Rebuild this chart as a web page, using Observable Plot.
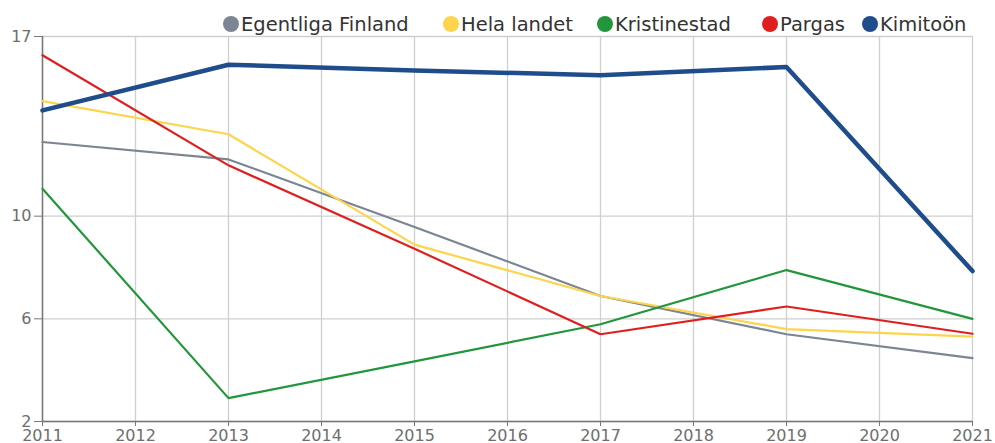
<!DOCTYPE html>
<html>
<head>
<meta charset="utf-8">
<script src="https://cdn.jsdelivr.net/npm/d3@7"></script>
<script src="https://cdn.jsdelivr.net/npm/@observablehq/plot@0.6"></script>
<style>
  html, body { margin: 0; padding: 0; background: #fff; }
  #wrap { position: relative; width: 995px; height: 443px; font-family: "DejaVu Sans", sans-serif; }
  #legend { position: absolute; top: 12px; left: 0; width: 995px; height: 24px; }
  .item { position: absolute; top: 0; height: 24px; display: flex; align-items: center; font-size: 19.5px; color: #333; white-space: nowrap; }
  .dot { width: 16px; height: 16px; border-radius: 50%; margin-right: 2px; }
</style>
</head>
<body>
<div id="wrap"><div id="legend"></div></div>
<script>
const years = [2011, 2013, 2015, 2017, 2019, 2021];
const allYears = [2011, 2012, 2013, 2014, 2015, 2016, 2017, 2018, 2019, 2020, 2021];
const yTicks = [2, 6, 10, 17];

const seriesNames = ["Egentliga Finland", "Hela landet", "Kristinestad", "Pargas", "Kimitoön"];
const seriesColors = ["#7b8593", "#fcd54c", "#21963a", "#df1f1f", "#1f4d8b"];

const egentligaFinland = [12.89, 12.21, 9.58, 6.89, 5.40, 4.47];
const helaLandet       = [14.48, 13.19, 8.89, 6.89, 5.60, 5.31];
const kristinestad     = [11.07, 2.91, 4.34, 5.79, 7.90, 6.00];
const pargas           = [16.27, 11.98, 8.73, 5.40, 6.48, 5.42];
const kimitoon         = [14.12, 15.90, 15.68, 15.49, 15.81, 7.86];

const seriesValues = [egentligaFinland, helaLandet, kristinestad, pargas, kimitoon];

const data = seriesNames.flatMap((s, i) =>
  years.map((yr, j) => ({ series: s, year: yr, value: seriesValues[i][j] }))
);

// legend (layout only)
const legendLeft = [223, 443, 597, 762, 862];
const legend = document.getElementById("legend");
seriesNames.forEach((s, i) => {
  const it = document.createElement("div");
  it.className = "item";
  it.style.left = legendLeft[i] + "px";
  const d = document.createElement("span");
  d.className = "dot";
  d.style.background = seriesColors[i];
  const t = document.createElement("span");
  t.textContent = s;
  it.appendChild(d); it.appendChild(t);
  legend.appendChild(it);
});

const chart = Plot.plot({
  width: 995,
  height: 443,
  marginTop: 36,
  marginBottom: 22,
  marginLeft: 42,
  marginRight: 23,
  style: { fontFamily: "DejaVu Sans, sans-serif", fontSize: "16px", color: "#666", background: "transparent" },
  x: { domain: [2011, 2021], label: null },
  y: { domain: [2, 17], label: null },
  color: { domain: seriesNames, range: seriesColors },
  marks: [
    Plot.gridX(allYears, { stroke: "#cfcfcf", strokeOpacity: 1, strokeWidth: 1.3 }),
    Plot.gridY(yTicks, { stroke: "#cfcfcf", strokeOpacity: 1, strokeWidth: 1.3 }),
    Plot.axisX(allYears, { tickFormat: "d", tickSize: 5, tickPadding: 3, stroke: "#777", fill: "#6e6e6e", label: null, fontSize: 16 }),
    Plot.axisY(yTicks, { tickSize: 8, tickPadding: 3, stroke: "#777", fill: "#6e6e6e", label: null, fontSize: 16 }),
    Plot.ruleX([2011], { stroke: "#777", strokeWidth: 1.5 }),
    Plot.ruleY([2], { stroke: "#777", strokeWidth: 1.5 }),
    Plot.lineY(data.filter(d => d.series !== "Kimitoön"), { x: "year", y: "value", z: "series", stroke: "series", strokeWidth: 2.2 }),
    Plot.lineY(data.filter(d => d.series === "Kimitoön"), { x: "year", y: "value", z: "series", stroke: "series", strokeWidth: 4.5 })
  ]
});
chart.style.position = "absolute";
chart.style.top = "0";
chart.style.left = "0";
document.getElementById("wrap").insertBefore(chart, legend);
</script>
</body>
</html>
